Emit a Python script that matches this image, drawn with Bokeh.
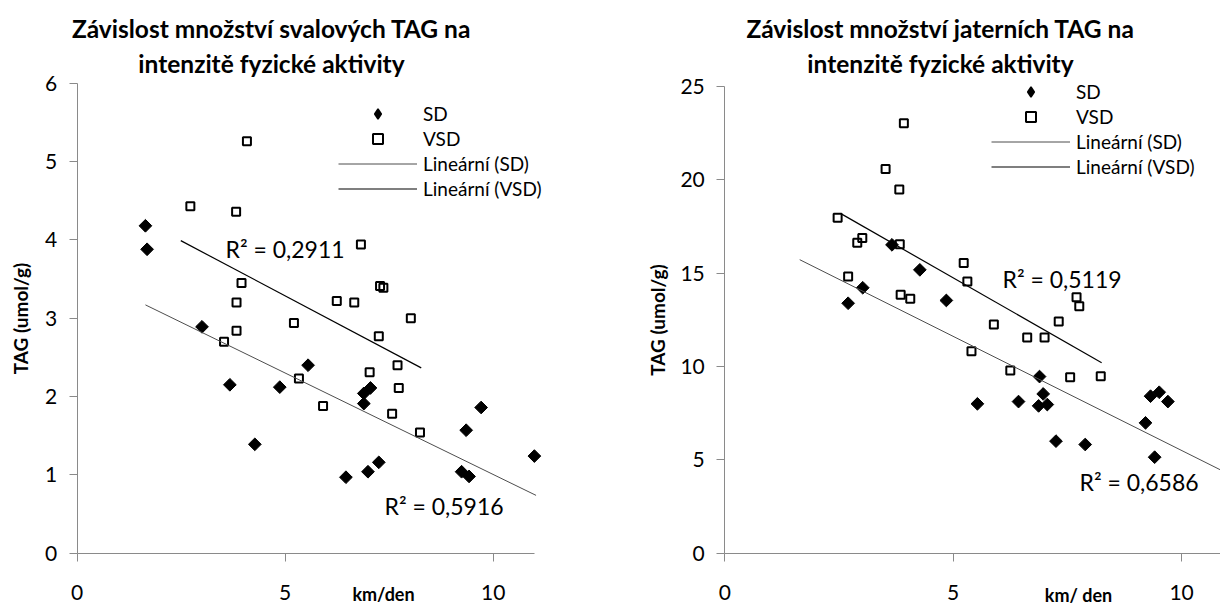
import math

from bokeh.embed import file_html
from bokeh.layouts import row
from bokeh.models import ColumnDataSource, FixedTicker, Label, Legend, LegendItem
from bokeh.plotting import figure
from bokeh.resources import INLINE

# ---------------------------------------------------------------------------
# Muscle TAG (umol/g) vs. running distance (km/day)
# ---------------------------------------------------------------------------
svaly_sd_km = [1.64, 1.68, 3.00, 3.67, 4.27, 4.87, 5.55, 6.46, 6.89, 6.89,
               6.99, 7.05, 7.25, 9.24, 9.35, 9.42, 9.71, 10.99]
svaly_sd_tag = [4.18, 3.88, 2.89, 2.15, 1.39, 2.12, 2.40, 0.97, 2.04, 1.91,
                1.04, 2.11, 1.16, 1.04, 1.57, 0.98, 1.86, 1.24]

svaly_vsd_km = [2.72, 3.53, 3.82, 3.83, 3.83, 3.95, 4.08, 5.21, 5.33, 5.91, 6.24,
                6.66, 6.82, 7.03, 7.25, 7.28, 7.36, 7.57, 7.70, 7.73, 8.02, 8.24]
svaly_vsd_tag = [4.43, 2.70, 4.36, 3.20, 2.84, 3.45, 5.26, 2.94, 2.23, 1.88, 3.22,
                 3.20, 3.94, 2.31, 2.77, 3.41, 3.39, 1.78, 2.40, 2.11, 3.00, 1.54]

# linear trend lines: x extent, (intercept, slope), R^2
svaly_sd_trend_km = [1.64, 11.03]
svaly_sd_trend_coef = (3.595, -0.259)
svaly_sd_r2 = "0,5916"
svaly_vsd_trend_km = [2.49, 8.27]
svaly_vsd_trend_coef = (4.69, -0.281)
svaly_vsd_r2 = "0,2911"

# ---------------------------------------------------------------------------
# Liver TAG (umol/g) vs. running distance (km/day)
# ---------------------------------------------------------------------------
jatra_sd_km = [2.70, 3.02, 3.66, 4.27, 4.85, 5.53, 6.43, 6.87, 6.89, 6.97,
               7.06, 7.25, 7.89, 9.21, 9.32, 9.41, 9.51, 9.70]
jatra_sd_tag = [13.39, 14.22, 16.52, 15.18, 13.54, 8.00, 8.12, 7.89, 9.46, 8.53,
                7.96, 6.00, 5.82, 6.98, 8.41, 5.14, 8.62, 8.12]

jatra_vsd_km = [2.47, 2.70, 2.90, 3.01, 3.52, 3.82, 3.83, 3.85, 3.92, 4.06, 5.23,
                5.31, 5.40, 5.89, 6.25, 6.62, 7.00, 7.31, 7.56, 7.70, 7.76, 8.23]
jatra_vsd_tag = [17.97, 14.82, 16.63, 16.88, 20.59, 19.48, 16.55, 13.85, 23.04, 13.63, 15.54,
                 14.55, 10.82, 12.25, 9.79, 11.55, 11.55, 12.41, 9.43, 13.71, 13.23, 9.48]

jatra_sd_trend_km = [1.64, 10.99]
jatra_sd_trend_coef = (17.73, -1.223)
jatra_sd_r2 = "0,6586"
jatra_vsd_trend_km = [2.55, 8.25]
jatra_vsd_trend_coef = (21.75, -1.40)
jatra_vsd_r2 = "0,5119"

x_ticks = [0, 5, 10]
svaly_y_ticks = [0, 1, 2, 3, 4, 5, 6]
jatra_y_ticks = [0, 5, 10, 15, 20, 25]

FONT = "Lato"
INK = "black"
AXIS_GREY = "#8a8a8a"
SD_LINE = "#4d4d4d"
VSD_LINE = "#000000"
HEIGHT = 606


def trend(xs, coef):
    a, b = coef
    return [a + b * x for x in xs]


def build_panel(cfg):
    # The plot frame fills the whole figure so that the title, legend and
    # axis texts (which Bokeh clips to the frame) all stay visible; the axes
    # are pinned at zero and bounded to the data extent.
    width = cfg["width"]
    ox, oy = cfg["origin_px"]          # pixel position of (0, 0) from top-left
    sx, sy = cfg["px_per_unit"]

    def at(px, py):
        return (px - ox) / sx, (oy - py) / sy

    p = figure(
        width=width, height=HEIGHT, title=None,
        x_range=(-ox / sx, (width - ox) / sx),
        y_range=(-(HEIGHT - oy) / sy, oy / sy),
        output_backend="svg", toolbar_location=None,
        min_border_left=0, min_border_right=0, min_border_top=0, min_border_bottom=0,
    )
    p.outline_line_color = None
    p.background_fill_color = "white"
    p.border_fill_color = "white"
    p.xgrid.visible = False
    p.ygrid.visible = False

    p.xaxis.ticker = FixedTicker(ticks=x_ticks)
    p.yaxis.ticker = FixedTicker(ticks=cfg["y_ticks"])
    p.xaxis.bounds = cfg["x_bounds"]
    p.yaxis.bounds = cfg["y_bounds"]
    p.xaxis.fixed_location = 0
    p.yaxis.fixed_location = 0
    for ax in (p.xaxis, p.yaxis):
        ax.axis_line_color = AXIS_GREY
        ax.major_tick_line_color = AXIS_GREY
        ax.minor_tick_line_color = None
        ax.major_tick_out = 8
        ax.major_tick_in = 0
        ax.major_label_text_font = FONT
        ax.major_label_text_font_size = "21px"
        ax.major_label_text_color = INK
    p.xaxis.major_label_standoff = 24
    p.yaxis.major_label_standoff = 12

    p.yaxis.axis_label = "TAG (umol/g)"
    p.yaxis.axis_label_text_font = FONT
    p.yaxis.axis_label_text_font_style = "bold"
    p.yaxis.axis_label_text_font_size = "19px"
    p.yaxis.axis_label_text_color = INK
    p.yaxis.axis_label_standoff = cfg["ylabel_standoff"]

    sd_src = ColumnDataSource(dict(x=cfg["sd_x"], y=cfg["sd_y"]))
    vsd_src = ColumnDataSource(dict(x=cfg["vsd_x"], y=cfg["vsd_y"]))

    p.scatter("x", "y", source=sd_src, marker="square", angle=math.pi / 4,
              size=9, fill_color=INK, line_color=INK)
    vsd_pts = p.scatter("x", "y", source=vsd_src, marker="square", size=8,
                        fill_alpha=0, line_color=INK, line_width=2)

    sd_tx = cfg["sd_trend_x"]
    vsd_tx = cfg["vsd_trend_x"]
    sd_line = p.line(sd_tx, trend(sd_tx, cfg["sd_coef"]), line_color=SD_LINE, line_width=1)
    vsd_line = p.line(vsd_tx, trend(vsd_tx, cfg["vsd_coef"]), line_color=VSD_LINE, line_width=1.2)

    # key symbol for the SD series (legend keys are drawn unrotated)
    sd_key = p.scatter(x=[float("nan")], y=[float("nan")], marker="diamond",
                       fill_color=INK, line_color=INK, line_width=1.5)

    lx, ly = cfg["legend_px"]
    legend = Legend(
        items=[
            LegendItem(label="SD", renderers=[sd_key]),
            LegendItem(label="VSD", renderers=[vsd_pts]),
            LegendItem(label="Lineární (SD)", renderers=[sd_line]),
            LegendItem(label="Lineární (VSD)", renderers=[vsd_line]),
        ],
        location=(lx, HEIGHT - ly),
        glyph_width=79, glyph_height=25, label_height=25,
        spacing=0, padding=0, margin=0, label_standoff=6,
        background_fill_alpha=0, border_line_color=None,
        label_text_font=FONT, label_text_font_size="19px", label_text_color=INK,
    )
    p.add_layout(legend)

    for (px, py), r2 in ((cfg["r2_vsd_px"], cfg["vsd_r2"]), (cfg["r2_sd_px"], cfg["sd_r2"])):
        tx, ty = at(px, py)
        p.add_layout(Label(x=tx, y=ty, text="R² = " + r2, text_font=FONT, text_color=INK,
                           text_font_size="23px", text_baseline="middle", text_align="left"))

    tx, ty = at(*cfg["xlabel_px"])
    p.add_layout(Label(x=tx, y=ty, text=cfg["xlabel"], text_font=FONT, text_font_style="bold",
                       text_color=INK, text_font_size="18px", text_baseline="middle",
                       text_align="center"))

    cx, rows_y = cfg["title_px"]
    for t, py in zip(cfg["title"], rows_y):
        tx, ty = at(cx, py)
        p.add_layout(Label(x=tx, y=ty, text=t, text_font=FONT, text_font_style="bold",
                           text_color=INK, text_font_size="24.5px", text_baseline="middle",
                           text_align="center"))
    return p


svaly = build_panel(dict(
    width=600, origin_px=(76.7, 552.7), px_per_unit=(41.6, 78.33),
    x_bounds=(0, 11), y_bounds=(0, 6), y_ticks=svaly_y_ticks,
    ylabel_standoff=10,
    sd_x=svaly_sd_km, sd_y=svaly_sd_tag, vsd_x=svaly_vsd_km, vsd_y=svaly_vsd_tag,
    sd_trend_x=svaly_sd_trend_km, sd_coef=svaly_sd_trend_coef,
    vsd_trend_x=svaly_vsd_trend_km, vsd_coef=svaly_vsd_trend_coef,
    sd_r2=svaly_sd_r2, vsd_r2=svaly_vsd_r2,
    r2_vsd_px=(225, 248), r2_sd_px=(384, 505),
    legend_px=(338, 201),
    xlabel="km/den", xlabel_px=(383, 593),
    title=["Závislost množství svalových TAG na", "intenzitě fyzické aktivity"],
    title_px=(271, (28, 63)),
))

jatra = build_panel(dict(
    width=620, origin_px=(124.3, 552.6), px_per_unit=(45.68, 18.66),
    x_bounds=(0, 11), y_bounds=(0, 25), y_ticks=jatra_y_ticks,
    ylabel_standoff=8,
    sd_x=jatra_sd_km, sd_y=jatra_sd_tag, vsd_x=jatra_vsd_km, vsd_y=jatra_vsd_tag,
    sd_trend_x=jatra_sd_trend_km, sd_coef=jatra_sd_trend_coef,
    vsd_trend_x=jatra_vsd_trend_km, vsd_coef=jatra_vsd_trend_coef,
    sd_r2=jatra_sd_r2, vsd_r2=jatra_vsd_r2,
    r2_vsd_px=(402, 278), r2_sd_px=(479, 481),
    legend_px=(391, 179),
    xlabel="km/ den", xlabel_px=(478, 594),
    title=["Závislost množství jaterních TAG na", "intenzitě fyzické aktivity"],
    title_px=(340, (28, 63)),
))

layout = row(svaly, jatra)
open("out.html", "w").write(file_html(layout, INLINE))
